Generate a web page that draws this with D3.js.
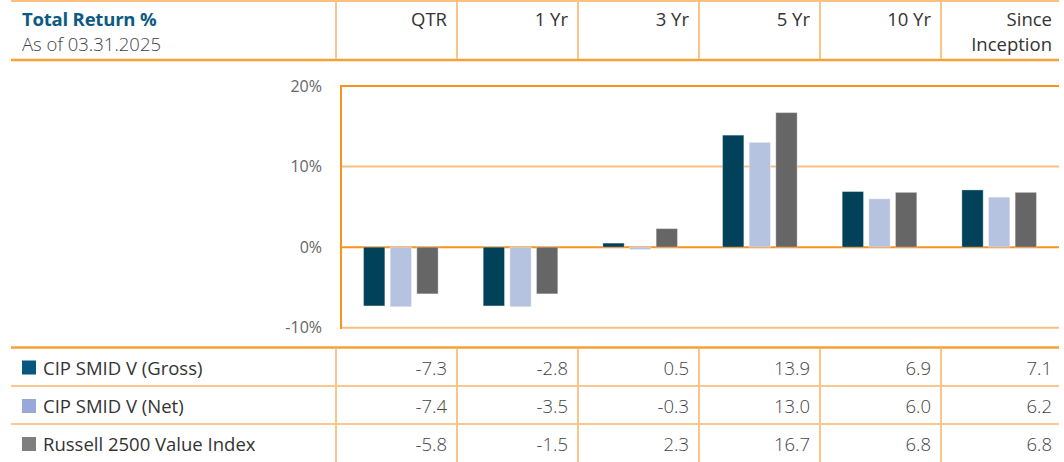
<!DOCTYPE html>
<html>
<head>
<meta charset="utf-8">
<script src="https://cdn.jsdelivr.net/npm/d3@7/dist/d3.min.js"></script>
<style>
  html, body { margin: 0; padding: 0; background: #fff; }
  svg { display: block; }
  text { font-family: "Open Sans", sans-serif; }
</style>
</head>
<body>
<svg id="chart" width="1064" height="462"></svg>
<script>
// ---- data ----
const categories = ["QTR", "1 Yr", "3 Yr", "5 Yr", "10 Yr", "Since Inception"];
const headerLabels = [["QTR"], ["1 Yr"], ["3 Yr"], ["5 Yr"], ["10 Yr"], ["Since", "Inception"]];
const seriesNames = ["CIP SMID V (Gross)", "CIP SMID V (Net)", "Russell 2500 Value Index"];
// bar heights as drawn in the chart
const grossBars = [-7.3, -7.3, 0.5, 13.9, 6.9, 7.1];
const netBars = [-7.4, -7.4, -0.3, 13.0, 6.0, 6.2];
const indexBars = [-5.8, -5.8, 2.3, 16.7, 6.8, 6.8];
// values printed in the table
const grossTable = ["-7.3", "-2.8", "0.5", "13.9", "6.9", "7.1"];
const netTable = ["-7.4", "-3.5", "-0.3", "13.0", "6.0", "6.2"];
const indexTable = ["-5.8", "-1.5", "2.3", "16.7", "6.8", "6.8"];
const yTicks = [-10, 0, 10, 20];
const titleText = "Total Return %";
const subtitleText = "As of 03.31.2025";

const barColors = ["#02415a", "#b6c3e0", "#666666"];
const swatchColors = ["#05577f", "#97a9d8", "#7f7f7f"];
const ORANGE = "#f7941d";
const ORANGE_LIGHT = "#fbbf80";
const ORANGE_DIV = "#fbc58a";
const FONT = '"Open Sans", sans-serif';
const FS = 18.5;

const svg = d3.select("#chart");

// ---- scales ----
const colX = d3.scaleBand().domain(categories).range([336, 1062]);
const plotX = d3.scaleBand().domain(categories).range([341, 1059]);
const bw = plotX.bandwidth();
const seriesX = d3.scaleBand().domain(d3.range(3)).range([bw / 2 - 37.3, bw / 2 + 37.3]).paddingInner(0.2);
const y = d3.scaleLinear().domain([-10, 20]).range([327.7, 86]);

// ---- header ----
svg.append("line").attr("x1", 11).attr("x2", 1059).attr("y1", 1).attr("y2", 1)
  .attr("stroke", ORANGE_LIGHT).attr("stroke-width", 2);
svg.append("line").attr("x1", 11).attr("x2", 1059).attr("y1", 60).attr("y2", 60)
  .attr("stroke", "#f7a035").attr("stroke-width", 2.5);
categories.forEach(c => {
  svg.append("line").attr("x1", colX(c)).attr("x2", colX(c)).attr("y1", 0).attr("y2", 59)
    .attr("stroke", ORANGE_DIV).attr("stroke-width", 2);
});
svg.append("text").attr("x", 22).attr("y", 25.5).text(titleText)
  .attr("font-size", 18.5).attr("font-weight", 700).attr("fill", "#0b5a84")
  .attr("letter-spacing", -0.2);
svg.append("text").attr("x", 22).attr("y", 50.5).text(subtitleText)
  .attr("font-size", 18.5).attr("font-weight", 300).attr("fill", "#444");
categories.forEach((c, i) => {
  const lines = headerLabels[i];
  lines.forEach((line, j) => {
    svg.append("text").attr("x", colX(c) + colX.bandwidth() - 10)
      .attr("y", lines.length === 1 ? 26 : 25.5 + j * 25)
      .attr("text-anchor", "end").attr("font-size", FS).attr("fill", "#333").text(line);
  });
});

// ---- plot ----
const plot = svg.append("g");
yTicks.forEach(t => {
  const strong = (t === 0 || t === 20);
  plot.append("line").attr("x1", 341).attr("x2", 1059).attr("y1", y(t)).attr("y2", y(t))
    .attr("stroke", strong ? ORANGE : ORANGE_LIGHT).attr("stroke-width", 2);
});
const yAxis = d3.axisLeft(y).tickValues(yTicks).tickSize(0).tickPadding(0)
  .tickFormat(d => d + "%");
const ya = plot.append("g").attr("transform", "translate(322,0)").call(yAxis);
ya.select(".domain").remove();
ya.selectAll("text").attr("font-size", 16).attr("fill", "#666")
  .style("font-family", FONT);

const barSeries = [grossBars, netBars, indexBars];
categories.forEach((c, i) => {
  barSeries.forEach((vals, s) => {
    const v = vals[i];
    plot.append("rect")
      .attr("x", plotX(c) + seriesX(s))
      .attr("width", seriesX.bandwidth())
      .attr("y", Math.min(y(v), y(0)))
      .attr("height", Math.abs(y(v) - y(0)))
      .attr("fill", barColors[s])
      .attr("stroke", "rgba(255,255,255,0.35)").attr("stroke-width", 1);
  });
});
plot.append("line").attr("x1", 341).attr("x2", 341).attr("y1", 85).attr("y2", 329)
  .attr("stroke", ORANGE).attr("stroke-width", 2);

// ---- table ----
const rowTops = [347.5, 386, 424];
const tableVals = [grossTable, netTable, indexTable];
svg.append("line").attr("x1", 11).attr("x2", 1059).attr("y1", 347.5).attr("y2", 347.5)
  .attr("stroke", "#f7a035").attr("stroke-width", 2.5);
[386, 424].forEach(yy => {
  svg.append("line").attr("x1", 11).attr("x2", 1059).attr("y1", yy).attr("y2", yy)
    .attr("stroke", "#f9b56b").attr("stroke-width", 1.5);
});
categories.forEach(c => {
  svg.append("line").attr("x1", colX(c)).attr("x2", colX(c)).attr("y1", 349).attr("y2", 462)
    .attr("stroke", ORANGE_DIV).attr("stroke-width", 2);
});
seriesNames.forEach((name, s) => {
  const cy = rowTops[s] + 20;
  svg.append("rect").attr("x", 22).attr("y", cy - 7).attr("width", 14).attr("height", 14)
    .attr("fill", swatchColors[s]);
  svg.append("text").attr("x", 43).attr("y", cy + 7).text(name)
    .attr("font-size", FS).attr("fill", "#333");
  categories.forEach((c, i) => {
    svg.append("text").attr("x", colX(c) + colX.bandwidth() - 10).attr("y", cy + 7)
      .attr("text-anchor", "end").attr("font-size", FS).attr("font-weight", 300)
      .attr("fill", "#444").text(tableVals[s][i]);
  });
});
</script>
</body>
</html>
